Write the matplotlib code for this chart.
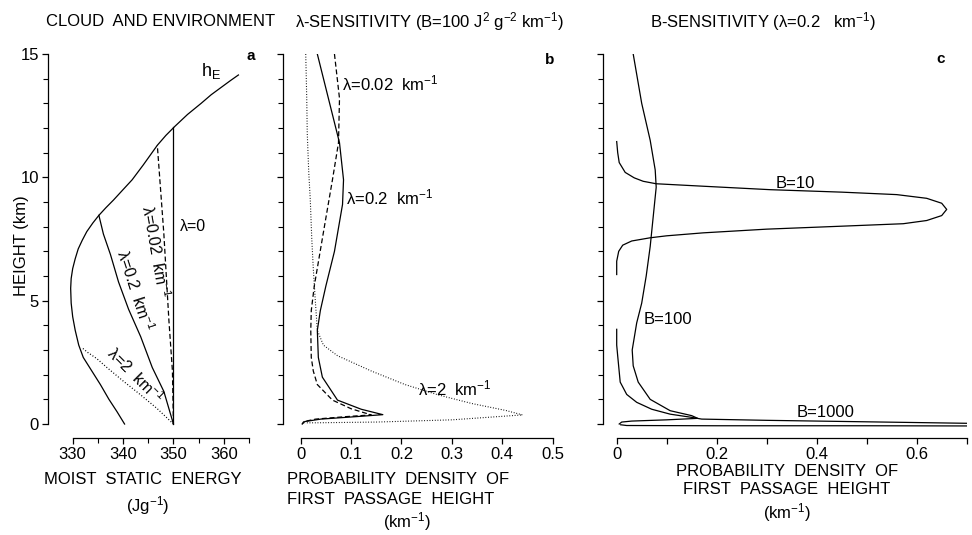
import matplotlib
matplotlib.use('Agg')
import matplotlib.pyplot as plt
from matplotlib.ticker import FixedLocator, NullFormatter

plt.rcParams['font.family'] = ['Liberation Sans', 'DejaVu Sans']
plt.rcParams['mathtext.fontset'] = 'custom'
plt.rcParams['mathtext.rm'] = 'Liberation Sans'
plt.rcParams['mathtext.it'] = 'Liberation Sans:italic'
plt.rcParams['mathtext.default'] = 'regular'

# ---------------- Panel a: cloud and environment (moist static energy, J/g vs height km)
hE_h = [340.3, 338.8, 337.2, 335.5, 333.8, 332.1, 331.2, 330.5, 330.0, 329.7, 329.6, 329.7, 330.0, 330.5,
        331.1, 331.9, 332.8, 334.0, 335.2, 336.6, 338.1, 339.9, 341.8, 344.0, 346.8, 348.5, 350.3, 352.8,
        355.5, 357.5, 359.5, 361.3, 362.9]
hE_z = [0.0, 0.5, 1.0, 1.6, 2.15, 2.7, 3.2, 3.8, 4.35, 4.9, 5.5, 5.9, 6.3, 6.7,
        7.1, 7.45, 7.8, 8.15, 8.46, 8.77, 9.08, 9.48, 9.9, 10.5, 11.3, 11.7, 12.07, 12.55,
        13.0, 13.35, 13.65, 13.92, 14.15]

lam0_h = [350.0, 350.0]
lam0_z = [0.0, 12.05]

lam002_h = [350.0, 349.8, 349.1, 348.1, 346.8]
lam002_z = [0.0, 2.15, 4.2, 7.7, 11.3]

lam02_h = [350.0, 348.1, 345.8, 343.5, 341.1, 339.1, 337.5, 336.1, 335.2]
lam02_z = [0.0, 1.32, 2.29, 3.54, 4.65, 5.76, 6.87, 7.7, 8.46]

lam2_h = [350.0, 346.8, 343.5, 340.1, 336.8, 334.8, 333.0, 331.8]
lam2_z = [0.0, 0.62, 1.18, 1.73, 2.29, 2.65, 2.9, 3.1]

a_xticks_major = [330, 340, 350, 360]
a_xticks_minor = [335, 345, 355, 365]

# ---------------- Panel b: lambda sensitivity (prob. density vs height)
b_l02_p = [0.033, 0.055, 0.077, 0.085, 0.083, 0.067, 0.050, 0.039, 0.033, 0.035, 0.043, 0.073, 0.120, 0.163, 0.110, 0.040, 0.008, 0.003]
b_l02_z = [15.0, 13.2, 11.4, 9.9, 8.9, 7.0, 5.6, 4.6, 3.8, 2.7, 1.9, 0.97, 0.6, 0.38, 0.3, 0.2, 0.1, 0.0]

b_l002_p = [0.067, 0.077, 0.075, 0.063, 0.047, 0.027, 0.021, 0.020, 0.021, 0.025, 0.033, 0.063, 0.100, 0.140, 0.090, 0.030, 0.006, 0.003]
b_l002_z = [15.0, 13.2, 11.4, 9.9, 8.0, 5.6, 4.6, 3.8, 2.7, 2.15, 1.6, 0.97, 0.62, 0.37, 0.3, 0.2, 0.1, 0.0]

b_l2_p = [0.010, 0.012, 0.013, 0.016, 0.019, 0.022, 0.025, 0.029, 0.033, 0.045, 0.073, 0.140, 0.207, 0.273, 0.340, 0.407, 0.440, 0.300, 0.150, 0.030, 0.008]
b_l2_z = [15.0, 13.2, 11.8, 10.2, 9.1, 7.5, 6.3, 5.0, 3.8, 3.2, 2.77, 2.15, 1.6, 1.18, 0.83, 0.55, 0.37, 0.17, 0.08, 0.05, 0.05]

b_xticks = [0, 0.1, 0.2, 0.3, 0.4, 0.5]
b_xlabels = ['0', '0.1', '0.2', '0.3', '0.4', '0.5']

# ---------------- Panel c: B sensitivity
c_B10_p = [0.0, 0.002, 0.005, 0.017, 0.035, 0.053, 0.079, 0.173, 0.307, 0.45, 0.56, 0.62, 0.65, 0.66, 0.65, 0.62, 0.573, 0.45, 0.30, 0.173, 0.10, 0.067, 0.03, 0.012, 0.004, 0.0, 0.0]
c_B10_z = [11.45, 11.0, 10.6, 10.2, 9.98, 9.84, 9.74, 9.64, 9.5, 9.4, 9.3, 9.15, 8.95, 8.7, 8.45, 8.25, 8.12, 8.02, 7.9, 7.75, 7.63, 7.55, 7.42, 7.25, 7.0, 6.6, 6.06]

c_B100_p = [0.033, 0.050, 0.067, 0.077, 0.079, 0.073, 0.067, 0.059, 0.050, 0.040, 0.031, 0.033, 0.043, 0.067, 0.107, 0.150, 0.162, 0.100, 0.030, 0.010, 0.005]
c_B100_z = [15.0, 13.0, 11.5, 10.3, 9.6, 8.4, 7.2, 6.0, 4.9, 4.1, 3.0, 2.36, 1.7, 1.0, 0.54, 0.34, 0.23, 0.17, 0.12, 0.08, 0.0]

c_B1000_p = [0.0, 0.0, 0.002, 0.007, 0.020, 0.040, 0.070, 0.107, 0.150, 0.170, 0.300, 0.500, 0.700, 0.760, 0.760, 0.500, 0.200, 0.020, 0.008]
c_B1000_z = [3.84, 3.2, 2.76, 1.7, 1.2, 0.88, 0.6, 0.4, 0.27, 0.2, 0.15, 0.09, 0.03, 0.01, -0.08, -0.07, -0.07, -0.06, -0.03]

c_xticks = [0, 0.1, 0.2, 0.3, 0.4, 0.5, 0.6, 0.7]
c_xlabels = ['0', '', '0.2', '', '0.4', '', '0.6', '']

height_major = [0, 5, 10, 15]
height_minor = list(range(0, 16))

W, H = 972, 535
fig = plt.figure(figsize=(W / 100, H / 100), dpi=100)

YB, YT = 437.6, 54.0  # pixel rows of axes bottom/top
FS = 12


def make_ax(x0, x1):
    return fig.add_axes([x0 / W, (H - YB) / H, (x1 - x0) / W, (YB - YT) / H])


def style(ax, xlim, xbounds):
    ax.set_xlim(*xlim)
    ax.set_ylim(-0.55, 15)
    ax.patch.set_alpha(0)
    for s in ['top', 'right']:
        ax.spines[s].set_visible(False)
    ax.spines['left'].set_bounds(0, 15)
    ax.spines['bottom'].set_bounds(*xbounds)
    for s in ['left', 'bottom']:
        ax.spines[s].set_linewidth(0.9)
    ax.yaxis.set_major_locator(FixedLocator(height_major))
    ax.yaxis.set_minor_locator(FixedLocator(height_minor))
    ax.tick_params(which='major', direction='out', length=4.5, width=0.9, labelsize=FS, pad=2)
    ax.tick_params(which='minor', direction='out', length=3.5, width=0.8)


lw = 0.9
dotted = (0, (0.8, 1.6))
dashed = (0, (4, 2.2))

# ---- a
axa = make_ax(48, 249)
style(axa, (325.1, 365), (330, 365))
axa.xaxis.set_major_locator(FixedLocator(a_xticks_major))
axa.xaxis.set_minor_locator(FixedLocator(a_xticks_minor))
axa.plot(hE_h, hE_z, color='black', lw=lw)
axa.plot(lam0_h, lam0_z, color='black', lw=lw)
axa.plot(lam002_h, lam002_z, color='black', lw=lw, linestyle=dashed)
axa.plot(lam02_h, lam02_z, color='black', lw=lw)
axa.plot(lam2_h, lam2_z, color='black', lw=lw, linestyle=dotted)
axa.set_ylabel('HEIGHT (km)', fontsize=FS)
axa.yaxis.set_label_coords(-0.095, 0.5)
axa.text(355.4, 14.3, 'h$_{E}$', fontsize=FS + 1, ha='left', va='center')
axa.text(365.3, 14.9, 'a', fontsize=11, fontweight='bold', ha='center', va='center')
axa.text(351.2, 8.0, 'λ=0', fontsize=FS - 0.5, ha='left', va='center')
axa.text(346.4, 7.0, 'λ=0.02  km$^{-1}$', fontsize=FS - 0.5, ha='center', va='center', rotation=-80)
axa.text(342.3, 5.4, 'λ=0.2  km$^{-1}$', fontsize=FS - 0.5, ha='center', va='center', rotation=-72)
axa.text(342.4, 2.0, 'λ=2  km$^{-1}$', fontsize=FS - 0.5, ha='center', va='center', rotation=-45)

# ---- b
axb = make_ax(283, 552.7)
style(axb, (-0.0351, 0.5), (0, 0.5))
axb.yaxis.set_major_formatter(NullFormatter())
axb.xaxis.set_major_locator(FixedLocator(b_xticks))
axb.set_xticklabels(b_xlabels)
axb.plot(b_l02_p, b_l02_z, color='black', lw=lw)
axb.plot(b_l002_p, b_l002_z, color='black', lw=lw, linestyle=dashed)
axb.plot(b_l2_p, b_l2_z, color='black', lw=0.8, linestyle=dotted)
axb.text(0.081, 13.8, 'λ=0.02  km$^{-1}$', fontsize=FS, ha='left', va='center')
axb.text(0.090, 9.2, 'λ=0.2  km$^{-1}$', fontsize=FS, ha='left', va='center')
axb.text(0.233, 1.45, 'λ=2  km$^{-1}$', fontsize=FS, ha='left', va='center')
axb.text(0.493, 14.75, 'b', fontsize=11, fontweight='bold', ha='center', va='center')

# ---- c
axc = make_ax(603, 966.7)
style(axc, (-0.0274, 0.7), (0, 0.7))
axc.yaxis.set_major_formatter(NullFormatter())
axc.xaxis.set_major_locator(FixedLocator(c_xticks))
axc.set_xticklabels(c_xlabels)
axc.plot(c_B10_p, c_B10_z, color='black', lw=lw)
axc.plot(c_B100_p, c_B100_z, color='black', lw=lw)
axc.plot(c_B1000_p, c_B1000_z, color='black', lw=lw)
axc.text(0.317, 9.77, 'B=10', fontsize=FS, ha='left', va='center')
axc.text(0.053, 4.25, 'B=100', fontsize=FS, ha='left', va='center')
axc.text(0.36, 0.47, 'B=1000', fontsize=FS, ha='left', va='center')
axc.text(0.647, 14.8, 'c', fontsize=11, fontweight='bold', ha='center', va='center')

# ---- titles and axis labels (figure coords from pixel positions)
def ftext(x, y, s, **kw):
    fig.text(x / W, 1 - y / H, s, **kw)

ftext(46, 22, 'CLOUD  AND ENVIRONMENT', fontsize=FS, ha='left', va='center')
ftext(295, 22, 'λ-SENSITIVITY (B=100 J$^{2}$ g$^{-2}$ km$^{-1}$)', fontsize=FS, ha='left', va='center')
ftext(650, 22, 'B-SENSITIVITY (λ=0.2   km$^{-1}$)', fontsize=FS, ha='left', va='center')

ftext(143, 480, 'MOIST  STATIC  ENERGY', fontsize=FS, ha='center', va='center')
ftext(148, 506, '(Jg$^{-1}$)', fontsize=FS, ha='center', va='center')

ftext(287, 480, 'PROBABILITY  DENSITY  OF', fontsize=FS, ha='left', va='center')
ftext(287, 499, 'FIRST  PASSAGE  HEIGHT', fontsize=FS, ha='left', va='center')
ftext(407, 522, '(km$^{-1}$)', fontsize=FS, ha='center', va='center')

ftext(787, 472, 'PROBABILITY  DENSITY  OF', fontsize=FS, ha='center', va='center')
ftext(787, 490, 'FIRST  PASSAGE  HEIGHT', fontsize=FS, ha='center', va='center')
ftext(787, 513, '(km$^{-1}$)', fontsize=FS, ha='center', va='center')

fig.savefig('out.png', dpi=100)
